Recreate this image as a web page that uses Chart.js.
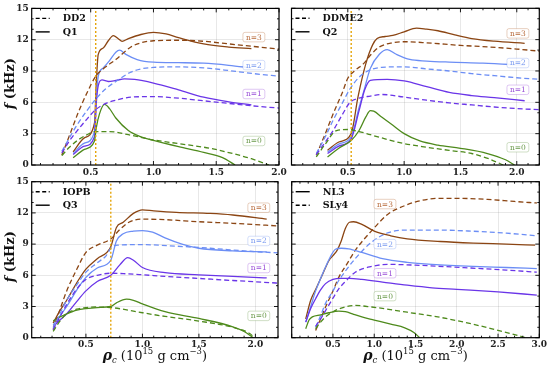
<!DOCTYPE html>
<html>
<head>
<meta charset="utf-8">
<script src="https://cdn.jsdelivr.net/npm/chart.js@4.4.0/dist/chart.umd.min.js"></script>
<style>
  body { margin: 0; background: #fff; }
  #wrap { position: relative; width: 550px; height: 368px; }
  canvas { position: absolute; left: 0; top: 0; }
</style>
</head>
<body>
<div id="wrap">
  <canvas id="p1" width="550" height="368"></canvas>
  <canvas id="p2" width="550" height="368"></canvas>
  <canvas id="p3" width="550" height="368"></canvas>
  <canvas id="p4" width="550" height="368"></canvas>
</div>
<script>
// ---- data: [rho_c (1e15 g/cm3), f (kHz)] ----
// panel 1: DD2 (dashed) / Q1 (solid)
const dd2_n0 = [[0.27,0.9],[0.33,1.7],[0.4,2.4],[0.47,2.9],[0.54,3.2],[0.65,3.2],[0.8,2.9],[1.0,2.4],[1.2,2.05],[1.45,1.6],[1.63,1.1],[1.78,0.6],[1.92,0]];
const dd2_n1 = [[0.27,1.15],[0.33,2.3],[0.4,3.4],[0.47,4.4],[0.54,5.3],[0.62,5.9],[0.7,6.2],[0.82,6.5],[1.0,6.55],[1.2,6.4],[1.4,6.15],[1.6,5.9],[1.8,5.65],[2.0,5.45]];
const dd2_n2 = [[0.27,1.3],[0.33,2.6],[0.4,4.0],[0.47,5.2],[0.54,6.3],[0.62,7.3],[0.7,8.0],[0.82,8.9],[0.9,9.2],[1.0,9.35],[1.2,9.4],[1.4,9.3],[1.6,9.05],[1.8,8.75],[2.0,8.5]];
const dd2_n3 = [[0.27,0.95],[0.33,2.8],[0.4,5.0],[0.47,6.9],[0.54,8.5],[0.62,9.4],[0.7,10.1],[0.82,11.3],[0.9,11.7],[1.0,11.9],[1.2,11.95],[1.4,11.85],[1.6,11.6],[1.8,11.35],[2.0,11.1]];
const q1_n0 = [[0.36,0.7],[0.45,1.5],[0.53,2.3],[0.545,3.6],[0.57,4.9],[0.61,5.8],[0.65,5.4],[0.7,4.5],[0.8,3.3],[0.9,2.7],[1.0,2.35],[1.2,1.75],[1.4,1.2],[1.55,0.7],[1.65,0]];
const q1_n1 = [[0.36,1.0],[0.45,1.8],[0.53,2.7],[0.545,6.0],[0.56,7.6],[0.59,8.15],[0.64,8.0],[0.7,8.1],[0.77,8.25],[0.85,8.2],[1.0,7.85],[1.2,7.2],[1.4,6.5],[1.6,6.05],[1.78,5.75]];
const q1_n2 = [[0.36,1.1],[0.45,2.1],[0.53,3.2],[0.545,6.5],[0.56,8.5],[0.6,9.3],[0.65,10.0],[0.7,10.8],[0.73,11.0],[0.78,10.6],[0.87,10.1],[1.0,9.85],[1.2,9.8],[1.4,9.75],[1.6,9.55],[1.78,9.3]];
const q1_n3 = [[0.36,1.25],[0.45,2.6],[0.53,4.0],[0.545,8.0],[0.56,10.6],[0.6,11.2],[0.64,11.9],[0.68,12.4],[0.72,12.1],[0.75,11.85],[0.8,12.1],[0.9,12.5],[1.0,12.7],[1.1,12.55],[1.2,12.2],[1.4,11.6],[1.6,11.3],[1.78,11.15]];

// panel 2: DDME2 (dashed) / Q2 (solid)
const ddme2_n0 = [[0.22,0.77],[0.3,2.0],[0.4,3.3],[0.5,3.4],[0.6,3.2],[0.7,2.9],[0.85,2.45],[1.0,2.05],[1.2,1.7],[1.4,1.4],[1.6,1.1],[1.75,0.6],[1.88,0]];
const ddme2_n1 = [[0.22,1.0],[0.3,2.2],[0.37,3.3],[0.45,4.8],[0.52,6.0],[0.6,6.4],[0.7,6.6],[0.8,6.75],[1.0,6.5],[1.2,6.2],[1.4,5.95],[1.6,5.75],[1.8,5.55],[2.0,5.4],[2.2,5.3]];
const ddme2_n2 = [[0.22,1.1],[0.3,2.7],[0.37,4.3],[0.45,5.9],[0.52,7.3],[0.6,8.4],[0.66,8.9],[0.8,9.35],[1.0,9.4],[1.2,9.2],[1.4,9.0],[1.6,8.75],[1.8,8.55],[2.0,8.35],[2.2,8.2]];
const ddme2_n3 = [[0.22,0.93],[0.3,3.0],[0.37,4.9],[0.45,6.9],[0.5,8.3],[0.57,9.1],[0.64,9.7],[0.7,10.5],[0.78,11.3],[0.9,11.7],[1.0,11.8],[1.2,11.7],[1.5,11.45],[1.75,11.3],[2.0,11.1],[2.2,10.9]];
const q2_n0 = [[0.32,0.77],[0.42,1.6],[0.53,2.35],[0.6,3.3],[0.66,4.6],[0.7,5.2],[0.73,5.15],[0.8,4.6],[0.9,3.8],[1.0,3.0],[1.14,2.3],[1.3,1.9],[1.5,1.6],[1.74,1.1],[1.9,0.5],[1.98,0]];
const q2_n1 = [[0.32,1.1],[0.42,1.8],[0.53,2.5],[0.6,5.2],[0.65,7.2],[0.7,8.1],[0.85,8.2],[1.0,8.05],[1.2,7.5],[1.4,6.95],[1.6,6.65],[1.8,6.45],[2.07,6.15]];
const q2_n2 = [[0.32,1.25],[0.42,2.0],[0.53,2.7],[0.6,5.5],[0.64,7.0],[0.7,9.25],[0.78,10.6],[0.85,11.05],[0.93,10.6],[1.05,10.1],[1.2,9.95],[1.4,9.85],[1.7,9.75],[2.07,9.55]];
const q2_n3 = [[0.32,1.4],[0.42,2.2],[0.53,3.0],[0.59,6.5],[0.66,9.7],[0.72,11.5],[0.76,12.1],[0.83,12.3],[0.9,12.4],[1.0,12.75],[1.11,13.1],[1.2,13.0],[1.3,12.85],[1.45,12.45],[1.6,12.1],[1.8,11.85],[2.07,11.65]];

// panel 3: IOPB (dashed) / Q3 (solid)
const iopb_n0 = [[0.21,0.6],[0.27,1.6],[0.33,2.3],[0.42,2.75],[0.5,2.9],[0.6,2.95],[0.72,2.9],[0.85,2.7],[1.0,2.4],[1.2,2.05],[1.5,1.6],[1.8,1.0],[1.95,0.4],[1.99,0]];
const iopb_n1 = [[0.21,0.75],[0.27,2.0],[0.33,3.2],[0.42,4.7],[0.5,5.6],[0.6,6.0],[0.72,6.2],[0.85,6.15],[1.0,6.05],[1.2,5.9],[1.5,5.7],[1.8,5.5],[2.2,5.25]];
const iopb_n2 = [[0.21,0.9],[0.27,2.3],[0.33,3.6],[0.42,5.1],[0.5,6.3],[0.6,7.2],[0.68,7.9],[0.72,8.6],[0.78,8.9],[1.0,8.95],[1.3,8.8],[1.6,8.6],[1.9,8.35],[2.2,8.15]];
const iopb_n3 = [[0.21,0.8],[0.27,2.7],[0.33,4.5],[0.42,6.6],[0.5,8.2],[0.6,8.9],[0.72,9.5],[0.8,10.4],[0.88,11.1],[1.0,11.4],[1.2,11.35],[1.5,11.15],[1.8,11.0],[2.2,10.75]];
const q3_n0 = [[0.21,1.6],[0.27,2.0],[0.33,2.3],[0.42,2.65],[0.5,2.8],[0.6,2.9],[0.72,3.0],[0.77,3.35],[0.86,3.7],[0.92,3.6],[1.0,3.25],[1.2,2.5],[1.5,1.85],[1.8,1.05],[1.9,0.6],[1.98,0]];
const q3_n1 = [[0.21,1.05],[0.27,1.7],[0.33,2.3],[0.42,3.5],[0.5,4.5],[0.6,5.4],[0.72,6.0],[0.8,7.0],[0.87,7.7],[0.92,7.45],[1.0,6.75],[1.2,6.25],[1.5,6.05],[1.8,5.9],[2.1,5.75]];
const q3_n2 = [[0.21,1.2],[0.27,2.1],[0.33,3.0],[0.42,4.6],[0.5,5.8],[0.6,6.7],[0.72,7.45],[0.77,9.3],[0.83,10.0],[0.92,10.25],[1.0,10.3],[1.09,10.15],[1.2,9.6],[1.35,9.0],[1.5,8.6],[1.8,8.35],[2.1,8.25]];
const q3_n3 = [[0.21,1.4],[0.27,2.6],[0.33,3.6],[0.42,5.3],[0.5,6.6],[0.6,7.6],[0.72,8.75],[0.77,10.6],[0.83,11.1],[0.92,11.95],[1.0,12.3],[1.1,12.2],[1.3,12.05],[1.6,11.95],[1.8,11.8],[2.1,11.4]];

// panel 4: NL3 (solid) / SLy4 (dashed)
const nl3_n0 = [[0.17,0.86],[0.21,1.7],[0.25,2.0],[0.35,2.2],[0.45,2.4],[0.57,2.55],[0.65,2.5],[0.75,2.25],[0.85,2.0],[1.0,1.7],[1.2,1.3],[1.37,0.95],[1.48,0.5],[1.55,0]];
const nl3_n1 = [[0.17,1.5],[0.23,2.8],[0.29,3.75],[0.35,4.6],[0.41,5.2],[0.5,5.6],[0.6,5.7],[0.7,5.7],[0.85,5.6],[1.1,5.35],[1.4,5.05],[1.7,4.8],[2.0,4.65],[2.5,4.4],[2.97,4.1]];
const nl3_n2 = [[0.17,1.5],[0.23,3.0],[0.29,4.5],[0.35,5.7],[0.41,6.8],[0.47,7.8],[0.53,8.5],[0.6,8.6],[0.69,8.55],[0.85,8.2],[1.1,7.6],[1.4,7.25],[1.7,7.05],[2.2,6.85],[2.6,6.75],[2.97,6.65]];
const nl3_n3 = [[0.17,1.8],[0.23,3.6],[0.3,4.8],[0.38,6.2],[0.45,7.4],[0.5,7.9],[0.55,8.4],[0.6,9.3],[0.65,10.5],[0.7,11.1],[0.75,11.15],[0.85,10.9],[1.0,10.25],[1.2,9.8],[1.4,9.5],[1.8,9.25],[2.2,9.1],[2.6,9.0],[2.95,8.9]];
const sly4_n0 = [[0.29,0.86],[0.35,1.5],[0.41,2.0],[0.5,2.5],[0.6,2.85],[0.77,3.1],[0.97,2.95],[1.2,2.7],[1.4,2.45],[1.77,2.0],[2.17,1.35],[2.5,0.7],[2.7,0.3],[2.83,0]];
const sly4_n1 = [[0.29,1.1],[0.35,1.8],[0.41,2.6],[0.5,3.8],[0.57,4.7],[0.65,5.4],[0.77,6.3],[0.97,6.85],[1.17,7.05],[1.57,6.95],[2.17,6.7],[2.6,6.5],[2.97,6.3]];
const sly4_n2 = [[0.29,1.0],[0.35,2.1],[0.41,3.3],[0.5,4.5],[0.57,5.5],[0.65,6.4],[0.77,7.6],[0.97,9.2],[1.17,10.1],[1.37,10.35],[1.77,10.35],[2.17,10.25],[2.6,10.05],[2.97,9.8]];
const sly4_n3 = [[0.29,0.7],[0.35,1.8],[0.41,2.95],[0.5,4.5],[0.57,5.8],[0.67,7.1],[0.77,8.4],[0.97,10.3],[1.17,11.9],[1.37,12.7],[1.57,13.2],[1.8,13.4],[2.0,13.4],[2.37,13.3],[2.7,13.1],[2.97,12.95]];

// transition density markers (dotted vertical lines)
const transition = [0.54, 0.53, 0.72];

const modeLabels = ['n=0', 'n=1', 'n=2', 'n=3'];
const yTicks = [0, 3, 6, 9, 12, 15];
const xTicksA = [0.5, 1.0, 1.5, 2.0];
const xTicksB = [0.5, 1.0, 1.5, 2.0, 2.5, 3.0];

const colors = ['#4e8a1c', '#6a35e8', '#6c8ef5', '#8b4513'];
const labelColors = ['#6a9a4a', '#9a4fd8', '#7a9af0', '#b86a3a'];

function pts(arr) { return arr.map(p => ({ x: p[0], y: p[1] })); }

function lineSet(arr, i, dashed) {
  return {
    data: pts(arr),
    borderColor: colors[i],
    borderWidth: 1.3,
    borderDash: dashed ? [5, 3] : [],
    pointRadius: 0,
    cubicInterpolationMode: 'monotone',
    fill: false
  };
}

function vline(x) {
  return {
    data: [{ x: x, y: 0 }, { x: x, y: 15 }],
    borderColor: '#e5a50a',
    borderWidth: 1.4,
    borderDash: [2, 2],
    pointRadius: 0,
    fill: false
  };
}

// draws frame, inward ticks, legend, mode labels, axis titles
const deco = {
  id: 'deco',
  afterDraw(chart, args, o) {
    const ctx = chart.ctx;
    const a = chart.chartArea;
    const xs = chart.scales.x, ys = chart.scales.y;
    ctx.save();
    ctx.strokeStyle = '#000';
    ctx.lineWidth = 1.2;
    ctx.strokeRect(a.left, a.top, a.right - a.left, a.bottom - a.top);

    ctx.lineWidth = 0.9;
    ctx.beginPath();
    for (let i = Math.ceil(xs.min * 10 - 1e-9); i <= Math.floor(xs.max * 10 + 1e-9); i++) {
      const px = xs.getPixelForValue(i / 10);
      const len = i % 5 === 0 ? 4 : 2;
      ctx.moveTo(px, a.bottom); ctx.lineTo(px, a.bottom - len);
      ctx.moveTo(px, a.top); ctx.lineTo(px, a.top + len);
    }
    for (let v = 0; v <= 15; v++) {
      const py = ys.getPixelForValue(v);
      const len = v % 3 === 0 ? 4 : 2;
      ctx.moveTo(a.left, py); ctx.lineTo(a.left + len, py);
      ctx.moveTo(a.right, py); ctx.lineTo(a.right - len, py);
    }
    ctx.stroke();

    // legend
    ctx.font = 'bold 9.5px "DejaVu Serif"';
    ctx.textBaseline = 'middle';
    ctx.fillStyle = '#111';
    o.legend.forEach((e, k) => {
      const y = a.top + 10 + k * 13.5;
      ctx.beginPath();
      ctx.setLineDash(e.dash ? [4, 2.5] : []);
      ctx.lineWidth = 1.4;
      ctx.moveTo(a.left + 4, y); ctx.lineTo(a.left + 18, y);
      ctx.stroke();
      ctx.setLineDash([]);
      ctx.fillText(e.text, a.left + 31, y + 0.5);
    });

    // mode labels
    ctx.font = '7.5px "DejaVu Serif"';
    ctx.textAlign = 'center';
    o.modes.forEach((m, k) => {
      const cx = xs.getPixelForValue(m[0]);
      const cy = ys.getPixelForValue(m[1]);
      const w = ctx.measureText(modeLabels[k]).width + 6, h = 9.5;
      ctx.beginPath();
      ctx.roundRect(cx - w / 2, cy - h / 2, w, h, 2);
      ctx.fillStyle = 'rgba(255,255,255,0.9)';
      ctx.fill();
      ctx.strokeStyle = labelColors[k] + '66';
      ctx.lineWidth = 0.8;
      ctx.stroke();
      ctx.fillStyle = labelColors[k];
      ctx.fillText(modeLabels[k], cx, cy + 0.5);
    });

    // y title
    if (o.yTitle) {
      const parts = [['f', 'italic bold 13px "DejaVu Serif"'], [' (kHz)', 'bold 13px "DejaVu Serif"']];
      ctx.translate(11, (a.top + a.bottom) / 2 - 3);
      ctx.rotate(-Math.PI / 2);
      ctx.textAlign = 'left';
      ctx.textBaseline = 'middle';
      ctx.fillStyle = '#111';
      let tot = 0;
      parts.forEach(p => { ctx.font = p[1]; tot += ctx.measureText(p[0]).width; });
      let x = -tot / 2;
      parts.forEach(p => { ctx.font = p[1]; ctx.fillText(p[0], x, 0); x += ctx.measureText(p[0]).width; });
      ctx.setTransform(1, 0, 0, 1, 0, 0);
    }
    // x title
    if (o.xTitle) {
      const big = '13px "DejaVu Serif"', small = '8.5px "DejaVu Serif"';
      const parts = [['ρ', 'italic bold 14px "DejaVu Serif"', 0], ['c', 'italic ' + small, 3],
        [' (10', big, 0], ['15', small, -6], [' g cm', big, 0], ['−3', small, -6], [')', big, 0]];
      ctx.textAlign = 'left';
      ctx.textBaseline = 'alphabetic';
      ctx.fillStyle = '#111';
      let tot = 0;
      parts.forEach(p => { ctx.font = p[1]; tot += ctx.measureText(p[0]).width; });
      let x = (a.left + a.right) / 2 - tot / 2;
      const base = 360;
      parts.forEach(p => { ctx.font = p[1]; ctx.fillText(p[0], x, base + p[2]); x += ctx.measureText(p[0]).width; });
    }
    ctx.restore();
  }
};

const YW = 30, XH = 16;

function makePanel(id, box, xr, xTicks, showY, sets, opts) {
  const tickFont = { family: 'DejaVu Serif', size: 9, weight: 'bold' };
  new Chart(document.getElementById(id), {
    type: 'line',
    data: { datasets: sets },
    options: {
      responsive: false,
      animation: false,
      layout: { padding: { left: box[0] - YW, top: box[2], right: 550 - box[1], bottom: 368 - box[3] - XH } },
      plugins: { legend: { display: false }, tooltip: { enabled: false }, deco: opts },
      scales: {
        x: {
          type: 'linear', min: xr[0], max: xr[1],
          afterFit: s => { s.height = XH; },
          afterBuildTicks: s => { s.ticks = xTicks.map(v => ({ value: v })); },
          ticks: { font: tickFont, color: '#222', padding: 2, maxRotation: 0, autoSkip: false,
                   callback: v => Number(v).toFixed(1) },
          grid: { color: 'rgba(0,0,0,0.09)', drawTicks: false },
          border: { display: false }
        },
        y: {
          min: 0, max: 15,
          afterFit: s => { s.width = YW; },
          afterBuildTicks: s => { s.ticks = yTicks.map(v => ({ value: v })); },
          ticks: { display: showY, font: tickFont, color: '#222', padding: 3, callback: v => String(v) },
          grid: { color: 'rgba(0,0,0,0.09)', drawTicks: false },
          border: { display: false }
        }
      }
    },
    plugins: [deco]
  });
}

makePanel('p1', [31.7, 279, 8.3, 165], [0.03, 2.0], xTicksA, true,
  [vline(transition[0]),
   lineSet(dd2_n0, 0, true), lineSet(dd2_n1, 1, true), lineSet(dd2_n2, 2, true), lineSet(dd2_n3, 3, true),
   lineSet(q1_n0, 0, false), lineSet(q1_n1, 1, false), lineSet(q1_n2, 2, false), lineSet(q1_n3, 3, false)],
  { legend: [{ text: 'DD2', dash: true }, { text: 'Q1', dash: false }],
    modes: [[1.80, 2.3], [1.80, 6.8], [1.80, 9.57], [1.80, 12.25]], yTitle: true, xTitle: false });

makePanel('p2', [291.5, 539.3, 8.3, 165], [0, 2.2], xTicksA, false,
  [vline(transition[1]),
   lineSet(ddme2_n0, 0, true), lineSet(ddme2_n1, 1, true), lineSet(ddme2_n2, 2, true), lineSet(ddme2_n3, 3, true),
   lineSet(q2_n0, 0, false), lineSet(q2_n1, 1, false), lineSet(q2_n2, 2, false), lineSet(q2_n3, 3, false)],
  { legend: [{ text: 'DDME2', dash: true }, { text: 'Q2', dash: false }],
    modes: [[2.01, 1.7], [2.01, 7.2], [2.01, 9.76], [2.01, 12.6]], yTitle: false, xTitle: false });

makePanel('p3', [31.7, 278, 181.7, 337.7], [0.02, 2.2], xTicksA, true,
  [vline(transition[2]),
   lineSet(iopb_n0, 0, true), lineSet(iopb_n1, 1, true), lineSet(iopb_n2, 2, true), lineSet(iopb_n3, 3, true),
   lineSet(q3_n0, 0, false), lineSet(q3_n1, 1, false), lineSet(q3_n2, 2, false), lineSet(q3_n3, 3, false)],
  { legend: [{ text: 'IOPB', dash: true }, { text: 'Q3', dash: false }],
    modes: [[2.03, 2.1], [2.03, 6.7], [2.03, 9.3], [2.03, 12.5]], yTitle: true, xTitle: true });

makePanel('p4', [291.7, 539.3, 181.7, 337.7], [0, 3.0], xTicksB, false,
  [lineSet(nl3_n0, 0, false), lineSet(nl3_n1, 1, false), lineSet(nl3_n2, 2, false), lineSet(nl3_n3, 3, false),
   lineSet(sly4_n0, 0, true), lineSet(sly4_n1, 1, true), lineSet(sly4_n2, 2, true), lineSet(sly4_n3, 3, true)],
  { legend: [{ text: 'NL3', dash: false }, { text: 'SLy4', dash: true }],
    modes: [[1.13, 4.0], [1.13, 6.2], [1.13, 9.0], [1.13, 12.85]], yTitle: false, xTitle: true });
</script>
</body>
</html>
